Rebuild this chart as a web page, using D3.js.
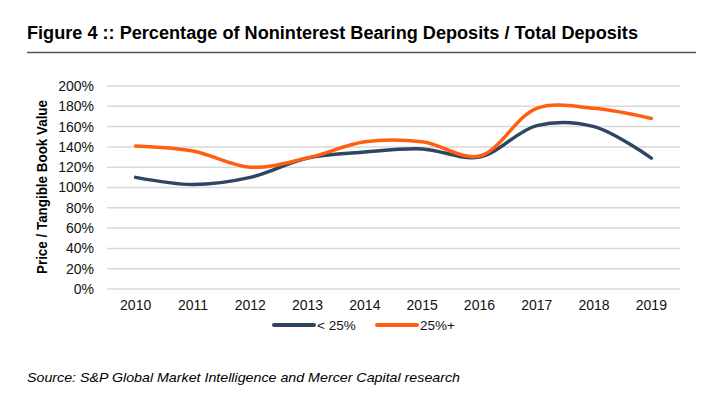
<!DOCTYPE html>
<html>
<head>
<meta charset="utf-8">
<script src="https://cdn.jsdelivr.net/npm/d3@7"></script>
<style>
  body { margin: 0; background: #fff; }
  text { font-family: "Liberation Sans", Arial, sans-serif; }
</style>
</head>
<body>
<div class="canva"></div>
<script>
const years = ["2010", "2011", "2012", "2013", "2014", "2015", "2016", "2017", "2018", "2019"];
const lowShare = [110, 103, 110, 129, 135, 138, 130, 161, 160, 129];   // < 25%
const highShare = [141, 136, 120, 129, 145, 145, 131, 178, 178, 168];  // 25%+
const yTicks = [0, 20, 40, 60, 80, 100, 120, 140, 160, 180, 200];

const series = [
    {name: "< 25%", values: lowShare, color: "#2e4661"},
    {name: "25%+", values: highShare, color: "#ff5f0f"}
];

const svg = d3.select(".canva").append("svg")
    .attr("width", 711)
    .attr("height", 399);

// title + rule
svg.append("text")
    .attr("x", 27)
    .attr("y", 39)
    .attr("textLength", 611)
    .attr("lengthAdjust", "spacingAndGlyphs")
    .style("font-size", "18px")
    .style("font-weight", "bold")
    .text("Figure 4 :: Percentage of Noninterest Bearing Deposits / Total Deposits");

svg.append("line")
    .attr("x1", 27).attr("x2", 696)
    .attr("y1", 52.5).attr("y2", 52.5)
    .attr("stroke", "#555")
    .attr("stroke-width", 1.3);

const margin = {top: 86, left: 107};
const width = 573;
const height = 203;

const graph = svg.append("g")
    .attr("transform", `translate(${margin.left}, ${margin.top})`);

const xScale = d3.scaleBand()
    .domain(years)
    .range([0, width]);

const yScale = d3.scaleLinear()
    .domain([0, 200])
    .range([height, 0]);

// gridlines
graph.append("g")
    .selectAll("line")
    .data(yTicks)
    .enter()
    .append("line")
    .attr("x1", 0)
    .attr("x2", width)
    .attr("y1", d => yScale(d))
    .attr("y2", d => yScale(d))
    .attr("stroke", "#d9d9d9")
    .attr("stroke-width", 1.5);

const yAxis = d3.axisLeft(yScale)
    .tickValues(yTicks)
    .tickSize(0)
    .tickPadding(13)
    .tickFormat(d => d + "%");

const xAxis = d3.axisBottom(xScale)
    .tickSize(0)
    .tickPadding(11);

const gy = graph.append("g").call(yAxis);
const gx = graph.append("g").attr("transform", `translate(0, ${height})`).call(xAxis);

[gx, gy].forEach(g => {
    g.select(".domain").remove();
    g.selectAll("text")
        .style("font-size", "14px")
        .style("font-family", "Liberation Sans, Arial, sans-serif")
        .attr("fill", "#111");
});

// y axis title
svg.append("text")
    .attr("transform", "translate(47, 187) rotate(-90)")
    .attr("text-anchor", "middle")
    .attr("textLength", 174)
    .attr("lengthAdjust", "spacingAndGlyphs")
    .style("font-size", "14px")
    .style("font-weight", "bold")
    .text("Price / Tangible Book Value");

// lines
const line = d3.line()
    .x((d, i) => xScale(years[i]) + xScale.bandwidth() / 2)
    .y(d => yScale(d))
    .curve(d3.curveCatmullRom.alpha(0.5));

graph.selectAll(".series")
    .data(series)
    .enter()
    .append("path")
    .attr("class", "series")
    .attr("d", d => line(d.values))
    .attr("fill", "none")
    .attr("stroke", d => d.color)
    .attr("stroke-width", 3.5)
    .attr("stroke-linecap", "round");

// legend
const legend = svg.append("g");
const legendX = [274, 377];
series.forEach((s, i) => {
    legend.append("line")
        .attr("x1", legendX[i]).attr("x2", legendX[i] + 40)
        .attr("y1", 325).attr("y2", 325)
        .attr("stroke", s.color)
        .attr("stroke-width", 4)
        .attr("stroke-linecap", "round");
    legend.append("text")
        .attr("x", legendX[i] + 43)
        .attr("y", 330)
        .style("font-size", "13.5px")
        .attr("fill", "#111")
        .text(s.name);
});

// source
svg.append("text")
    .attr("x", 27)
    .attr("y", 382)
    .attr("textLength", 433)
    .attr("lengthAdjust", "spacingAndGlyphs")
    .style("font-size", "13.5px")
    .style("font-style", "italic")
    .text("Source: S&P Global Market Intelligence and Mercer Capital research");
</script>
</body>
</html>
